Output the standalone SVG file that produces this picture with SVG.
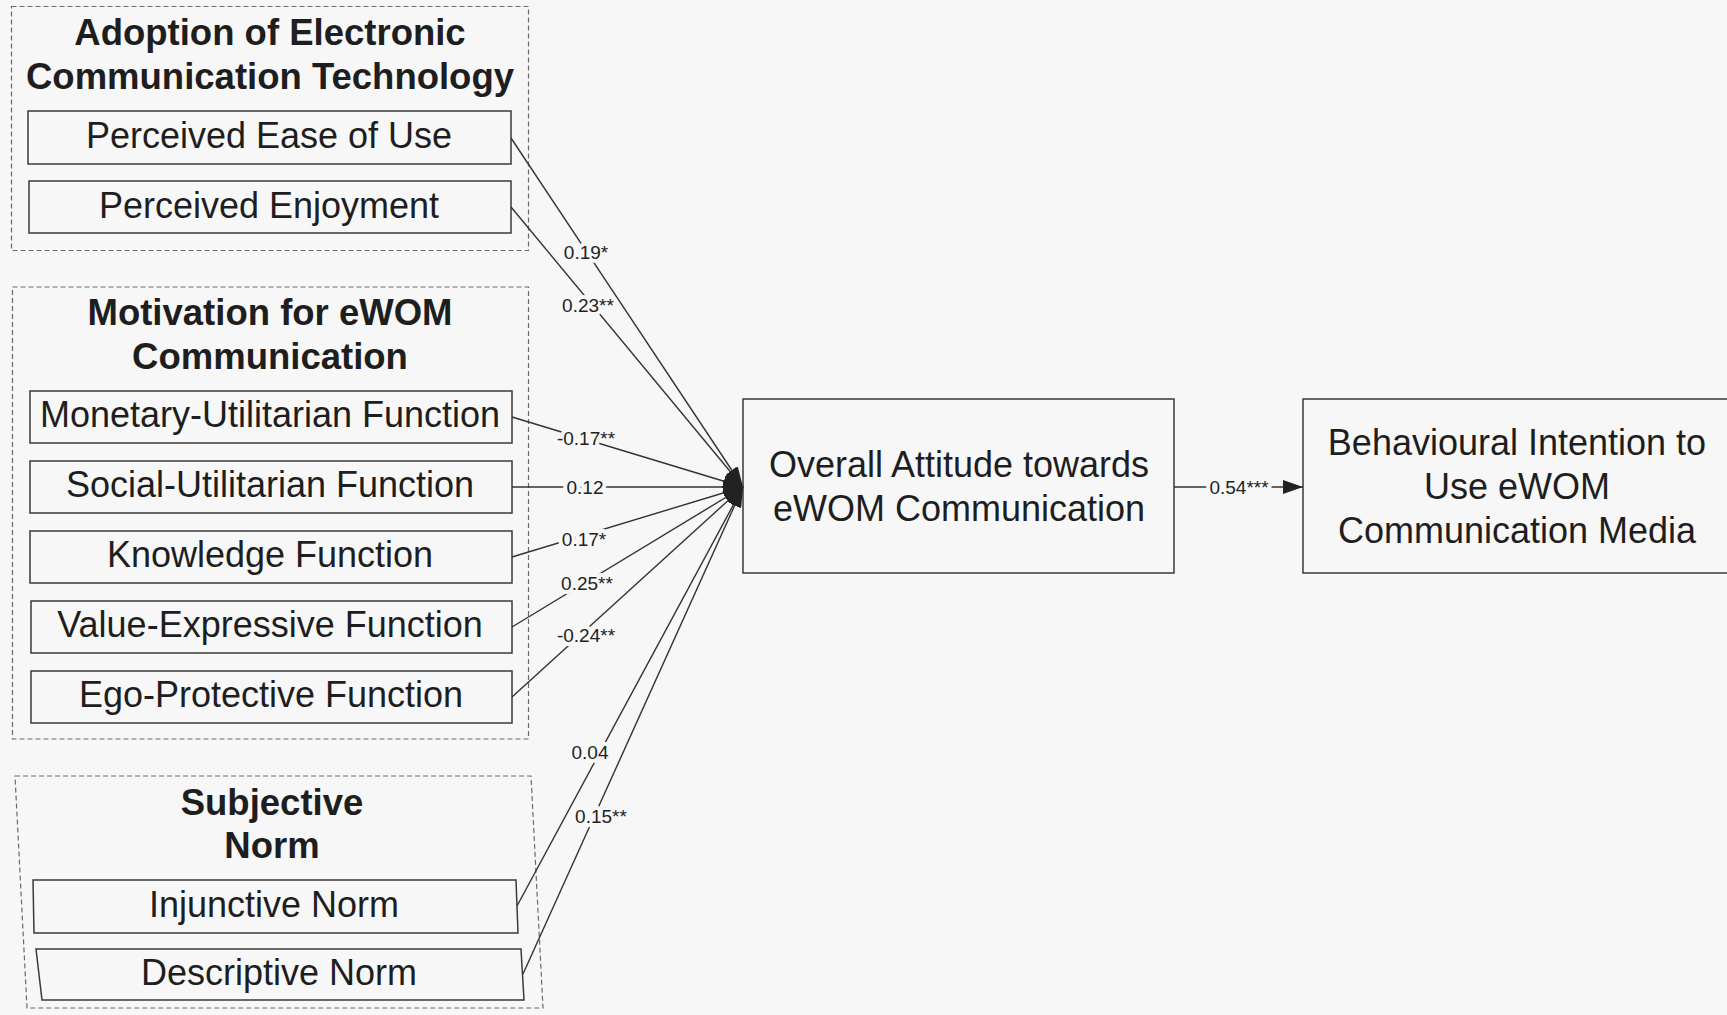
<svg xmlns="http://www.w3.org/2000/svg" width="1727" height="1015" viewBox="0 0 1727 1015">
  <style>
    .group { fill: none; stroke: #6a6a6a; stroke-width: 1.2; stroke-dasharray: 5 3; }
    .box { fill: none; stroke: #3a3a3a; stroke-width: 1.5; }
    .title { font-family: "Liberation Sans", Arial, sans-serif; font-weight: bold; font-size: 36.5px; fill: #1e1e1e; text-anchor: middle; }
    .label { font-family: "Liberation Sans", Arial, sans-serif; font-size: 36px; fill: #1e1e1e; text-anchor: middle; }
    .coef { font-family: "Liberation Sans", Arial, sans-serif; font-size: 19px; fill: #222; text-anchor: middle; stroke: #f7f7f7; stroke-width: 8; stroke-linejoin: round; paint-order: stroke; }
    .link { fill: none; stroke: #333; stroke-width: 1.4; }
  </style>
  <defs>
    <marker id="head" viewBox="0 0 20 14" markerWidth="20" markerHeight="14" refX="20" refY="7" orient="auto" markerUnits="userSpaceOnUse">
      <path d="M0,0 L20,7 L0,14 z" fill="#222"/>
    </marker>
  </defs>

  <rect x="0" y="0" width="1727" height="1015" fill="#f7f7f7"/>

  <!-- Adoption of Electronic Communication Technology -->
  <g id="group-adoption">
    <rect class="group" x="11.5" y="6.5" width="517" height="244"/>
    <text class="title" x="270" y="45">Adoption of Electronic</text>
    <text class="title" x="270" y="89">Communication Technology</text>
  </g>
  <g id="node-ease-of-use">
    <rect class="box" x="28" y="111" width="483" height="53"/>
    <text class="label" x="269" y="148">Perceived Ease of Use</text>
  </g>
  <g id="node-enjoyment">
    <rect class="box" x="29" y="181" width="482" height="52"/>
    <text class="label" x="269" y="218">Perceived Enjoyment</text>
  </g>

  <!-- Motivation for eWOM Communication -->
  <g id="group-motivation">
    <rect class="group" x="12.5" y="287" width="516" height="452"/>
    <text class="title" x="270" y="325">Motivation for eWOM</text>
    <text class="title" x="270" y="369">Communication</text>
  </g>
  <g id="node-monetary">
    <rect class="box" x="30" y="391" width="482" height="52"/>
    <text class="label" x="270" y="427">Monetary-Utilitarian Function</text>
  </g>
  <g id="node-social">
    <rect class="box" x="30" y="461" width="482" height="52"/>
    <text class="label" x="270" y="497">Social-Utilitarian Function</text>
  </g>
  <g id="node-knowledge">
    <rect class="box" x="30" y="531" width="482" height="52"/>
    <text class="label" x="270" y="567">Knowledge Function</text>
  </g>
  <g id="node-value">
    <rect class="box" x="31" y="601" width="481" height="52"/>
    <text class="label" x="270" y="637">Value-Expressive Function</text>
  </g>
  <g id="node-ego">
    <rect class="box" x="31" y="671" width="481" height="52"/>
    <text class="label" x="271" y="707">Ego-Protective Function</text>
  </g>

  <!-- Subjective Norm -->
  <g id="group-norm">
    <path class="group" d="M15,776 L531,776 L543,1008 L27,1008 Z"/>
    <text class="title" x="272" y="815">Subjective</text>
    <text class="title" x="272" y="858">Norm</text>
  </g>
  <g id="node-injunctive">
    <path class="box" d="M33,880 L516,880 L518,933 L34,933 Z"/>
    <text class="label" x="274" y="917">Injunctive Norm</text>
  </g>
  <g id="node-descriptive">
    <path class="box" d="M36,949 L521,949 L524,1000 L42,1000 Z"/>
    <text class="label" x="279" y="985">Descriptive Norm</text>
  </g>

  <!-- Outcome constructs -->
  <g id="node-attitude">
    <rect class="box" x="743" y="399" width="431" height="174"/>
    <text class="label" x="959" y="477">Overall Attitude towards</text>
    <text class="label" x="959" y="521">eWOM Communication</text>
  </g>
  <g id="node-intention">
    <rect class="box" x="1303" y="399" width="430" height="174"/>
    <text class="label" x="1517" y="455">Behavioural Intention to</text>
    <text class="label" x="1517" y="499">Use eWOM</text>
    <text class="label" x="1517" y="543">Communication Media</text>
  </g>

  <!-- Paths with standardised coefficients -->
  <g id="connectors">
    <line class="link" x1="511" y1="138" x2="743" y2="487" marker-end="url(#head)"/>
    <line class="link" x1="511" y1="207" x2="743" y2="487" marker-end="url(#head)"/>
    <line class="link" x1="512" y1="417" x2="743" y2="487" marker-end="url(#head)"/>
    <line class="link" x1="512" y1="487" x2="743" y2="487" marker-end="url(#head)"/>
    <line class="link" x1="512" y1="557" x2="743" y2="487" marker-end="url(#head)"/>
    <line class="link" x1="512" y1="627" x2="743" y2="487" marker-end="url(#head)"/>
    <line class="link" x1="512" y1="697" x2="743" y2="487" marker-end="url(#head)"/>
    <line class="link" x1="517" y1="906" x2="743" y2="487" marker-end="url(#head)"/>
    <line class="link" x1="523" y1="974" x2="743" y2="487" marker-end="url(#head)"/>
    <line class="link" x1="1174" y1="487" x2="1303" y2="487" marker-end="url(#head)"/>

    <text class="coef" x="586" y="259">0.19*</text>
    <text class="coef" x="588" y="312">0.23**</text>
    <text class="coef" x="586" y="445">-0.17**</text>
    <text class="coef" x="585" y="494">0.12</text>
    <text class="coef" x="584" y="546">0.17*</text>
    <text class="coef" x="587" y="590">0.25**</text>
    <text class="coef" x="586" y="642">-0.24**</text>
    <text class="coef" x="590" y="759">0.04</text>
    <text class="coef" x="601" y="823">0.15**</text>
    <text class="coef" x="1239" y="494">0.54***</text>
  </g>
</svg>
